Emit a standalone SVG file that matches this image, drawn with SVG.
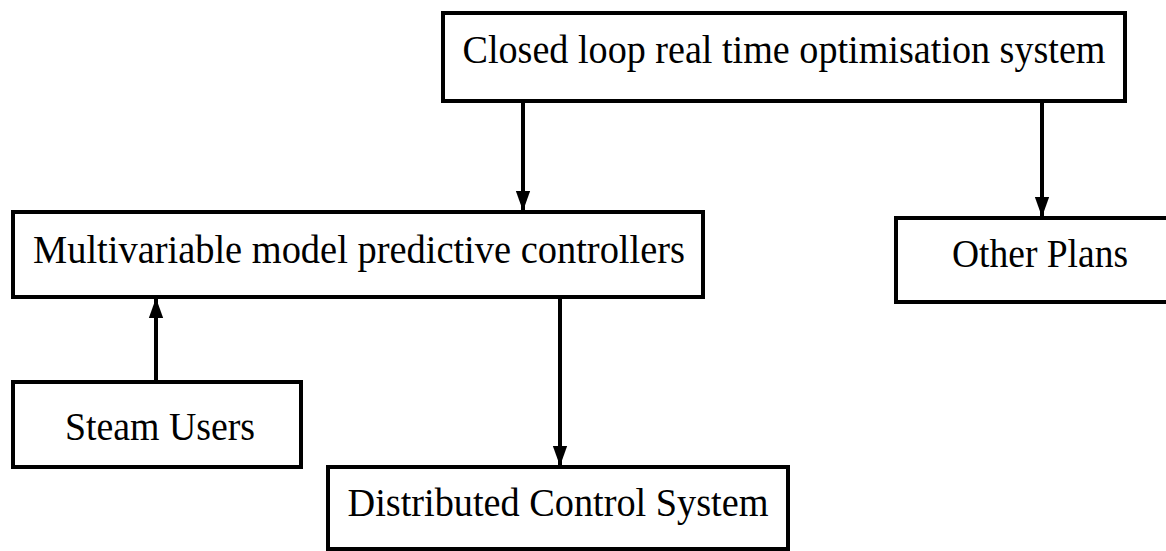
<svg xmlns="http://www.w3.org/2000/svg" width="1166" height="551" viewBox="0 0 1166 551">
  <style>
    .box { fill: #ffffff; stroke: #000000; stroke-width: 4; }
    .label { font-family: "Liberation Serif", "Times New Roman", serif; font-size: 40px; fill: #000000; text-anchor: middle; }
    .link { stroke: #000000; stroke-width: 4; fill: none; }
  </style>
  <defs>
    <marker id="head" markerUnits="userSpaceOnUse" markerWidth="20" markerHeight="30" viewBox="0 0 28 20" refX="28" refY="10" orient="auto">
      <path d="M0,0 L28,10 L0,20 Z" fill="#000000"/>
    </marker>
  </defs>
  <rect width="1166" height="551" fill="#ffffff"/>

  <!-- arrows between the blocks -->
  <g id="connectors">
    <line class="link" x1="523" y1="101" x2="523" y2="211" marker-end="url(#head)"/>
    <line class="link" x1="1042" y1="103" x2="1042" y2="217" marker-end="url(#head)"/>
    <line class="link" x1="156" y1="382" x2="156" y2="298" marker-end="url(#head)"/>
    <line class="link" x1="560" y1="298" x2="560" y2="466" marker-end="url(#head)"/>
  </g>

  <g id="node-rto">
    <rect class="box" x="443" y="13" width="682" height="88"/>
    <text class="label" x="784" y="63" textLength="643" lengthAdjust="spacingAndGlyphs">Closed loop real time optimisation system</text>
  </g>

  <g id="node-mpc">
    <rect class="box" x="13" y="212" width="690" height="85"/>
    <text class="label" x="359" y="263" textLength="652" lengthAdjust="spacingAndGlyphs">Multivariable model predictive controllers</text>
  </g>

  <g id="node-other">
    <rect class="box" x="896" y="218" width="290" height="84"/>
    <text class="label" x="1040" y="267" textLength="176" lengthAdjust="spacingAndGlyphs">Other Plans</text>
  </g>

  <g id="node-steam">
    <rect class="box" x="13" y="382" width="288" height="85"/>
    <text class="label" x="160" y="440" textLength="190" lengthAdjust="spacingAndGlyphs">Steam Users</text>
  </g>

  <g id="node-dcs">
    <rect class="box" x="328" y="467" width="460" height="82"/>
    <text class="label" x="558" y="516" textLength="421" lengthAdjust="spacingAndGlyphs">Distributed Control System</text>
  </g>
</svg>
